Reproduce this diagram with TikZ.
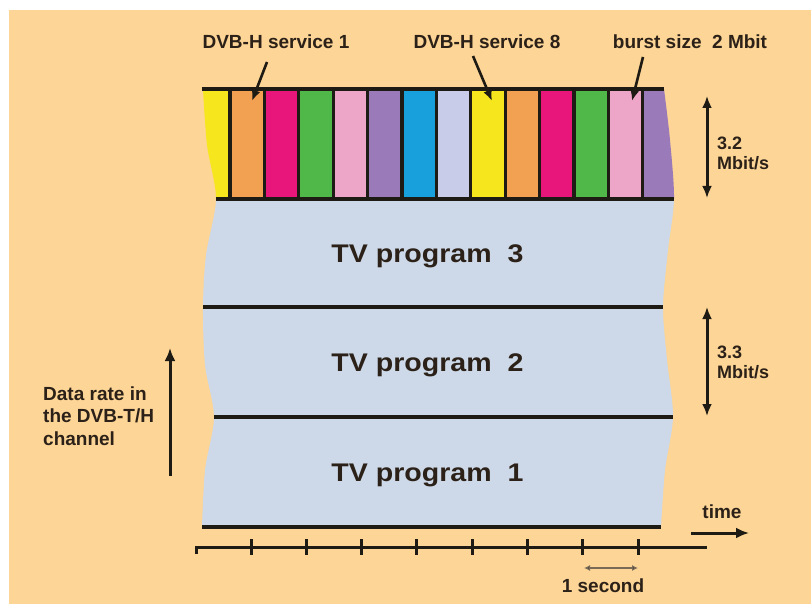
\documentclass[tikz,border=0pt]{standalone}
\usepackage{fontspec}
\setmainfont{Liberation Sans}
\newfontfamily\widefont[FakeStretch=1.12]{Liberation Sans}
\usetikzlibrary{arrows.meta}
\definecolor{bgc}{HTML}{FDD596}
\definecolor{bandc}{HTML}{CDD9E8}
\definecolor{ink}{HTML}{1E1A14}
\definecolor{txt}{HTML}{2B2118}
\definecolor{barY}{HTML}{F5E61E}
\definecolor{barO}{HTML}{F2A052}
\definecolor{barM}{HTML}{E8157A}
\definecolor{barG}{HTML}{50B848}
\definecolor{barP}{HTML}{EEA6C8}
\definecolor{barV}{HTML}{9A7AB8}
\definecolor{barB}{HTML}{18A0DC}
\definecolor{barL}{HTML}{C8CCE8}
\definecolor{secc}{HTML}{7A6A58}
\tikzset{
  lbl/.style={font=\fontsize{19}{22.5}\selectfont\bfseries, text=txt, inner sep=0pt, align=left},
  tv/.style={font=\widefont\fontsize{25.5}{30}\selectfont\bfseries, text=txt, inner sep=0pt},
  hline/.style={draw=ink, line width=4pt},
  divider/.style={draw=ink, line width=3.2pt},
  ptr/.style={draw=ink, line width=2.6pt, -{Latex[length=11pt,width=9pt]}},
  bigarrow/.style={draw=ink, line width=3pt, -{Latex[length=13pt,width=11pt]}},
  dblarrow/.style={draw=ink, line width=3pt, {Latex[length=12pt,width=10pt]}-{Latex[length=12pt,width=10pt]}},
  secarrow/.style={draw=secc, line width=1.4pt, {Latex[length=6pt,width=6pt,fill=ink]}-{Latex[length=6pt,width=6pt,fill=ink]}},
  axisline/.style={draw=ink, line width=3pt},
}
\begin{document}
\begin{tikzpicture}[x=1pt,y=-1pt]
\useasboundingbox (0,0) rectangle (811,604);
\fill[white] (0,0) rectangle (811,604);
\fill[bgc] (9,10) rectangle (811,604);

% torn region: strip + bands
\begin{scope}
\clip plot[smooth] coordinates {(203,89) (207,145) (216,199) (206,255) (203,307) (205,365) (214,417) (205,470) (202,527)}
  -- plot[smooth] coordinates {(661,527) (665,470) (673,417) (667,360) (663,307) (668,250) (674,199) (670,140) (664,89)} -- cycle;
\fill[bandc] (150,195) rectangle (720,540);
\foreach \c [count=\i from 0] in {barY,barO,barM,barG,barP,barV,barB,barL,barY,barO,barM,barG,barP,barV} {
  \fill[fill=\c] ({230+34.39*(\i-1)},89) rectangle ({230+34.39*\i},199);
}
\end{scope}
\foreach \k in {0,...,12} {
  \draw[divider] ({230+34.39*\k},89) -- ({230+34.39*\k},199);
}
\draw[hline] (202,89) -- (664,89);
\draw[hline] (216,199) -- (674,199);
\draw[hline] (203,307) -- (663,307);
\draw[hline] (214,417) -- (673,417);
\draw[hline] (202,527) -- (661,527);

% band labels
\node[tv, anchor=base] (tv3) at (427.5,262) {TV program\ \ 3};
\node[tv, anchor=base] (tv2) at (427.5,371.5) {TV program\ \ 2};
\node[tv, anchor=base] (tv1) at (427.5,481.5) {TV program\ \ 1};

% top labels and pointers
\node[lbl, anchor=base] (s1) at (276,49) {DVB-H service 1};
\node[lbl, anchor=base] (s8) at (487,49) {DVB-H service 8};
\node[lbl, anchor=base] (bs) at (690,49) {burst size\ \ 2 Mbit};
\coordinate (s1a) at (267,62);
\coordinate (s1b) at (252,101);
\coordinate (s8a) at (473,56);
\coordinate (s8b) at (492,101);
\coordinate (bsa) at (643,57);
\coordinate (bsb) at (632,101);
\draw[ptr] (s1a) -- (s1b);
\draw[ptr] (s8a) -- (s8b);
\draw[ptr] (bsa) -- (bsb);

% right rate arrows
\coordinate (r1t) at (707,96);
\coordinate (r1b) at (707,198);
\coordinate (r2t) at (707,307);
\coordinate (r2b) at (707,416);
\draw[dblarrow] (r1t) -- (r1b);
\draw[dblarrow] (r2t) -- (r2b);
\node[lbl, anchor=west, font=\fontsize{18}{20}\selectfont\bfseries] (rate32) at (717,153) {3.2\\Mbit/s};
\node[lbl, anchor=west, font=\fontsize{18}{20}\selectfont\bfseries] (rate33) at (717,362) {3.3\\Mbit/s};

% left axis label
\coordinate (dlb) at (170,476);
\coordinate (dlt) at (170,348);
\draw[bigarrow] (dlb) -- (dlt);
\node[lbl, anchor=west] (drate) at (43,416) {Data rate in\\the DVB-T/H\\channel};

% time axis
\coordinate (ax0) at (196,554);
\coordinate (ax1) at (196,547);
\coordinate (ax2) at (707,547);
\draw[axisline] (ax0) -- (ax1) -- (ax2);
\foreach \k in {0,...,7} {
  \draw[axisline] ({251+55.3*\k},539) -- ({251+55.3*\k},555);
}
\node[lbl, anchor=base] (time) at (722,518) {time};
\coordinate (ta) at (691,533);
\coordinate (tb) at (749,533);
\draw[bigarrow] (ta) -- (tb);
\coordinate (sa) at (584,568);
\coordinate (sb) at (638,568);
\draw[secarrow] (sa) -- (sb);
\node[lbl, anchor=base] (sec) at (603,592) {1 second};
\end{tikzpicture}
\end{document}
